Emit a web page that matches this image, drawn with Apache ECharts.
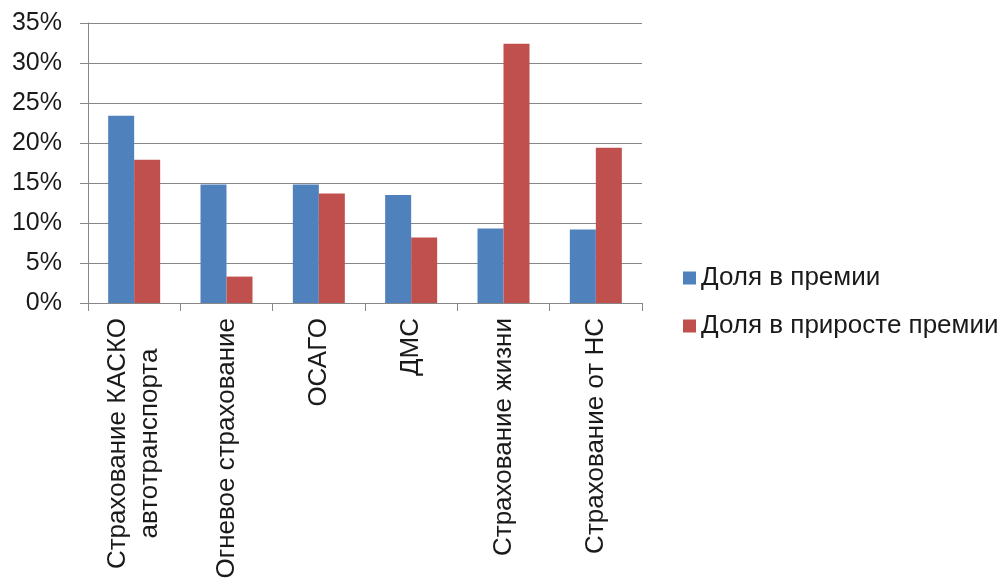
<!DOCTYPE html>
<html><head><meta charset="utf-8">
<script src="https://cdn.jsdelivr.net/npm/echarts@6/dist/echarts.min.js"></script>
<style>html,body{margin:0;padding:0;background:#fff}#c{width:1007px;height:586px}</style>
</head><body><div id="c"></div>
<script>
const categories = ['Страхование КАСКО\nавтотранспорта','Огневое страхование','ОСАГО','ДМС','Страхование жизни','Страхование от НС'];
const sharePremium = [23.4, 14.8, 14.8, 13.5, 9.3, 9.2];
const shareGrowth = [17.9, 3.3, 13.7, 8.2, 32.4, 19.4];
const seriesNames = ['Доля в премии','Доля в приросте премии'];
const yTicks = {min:0, max:35, interval:5};

const FONT = 'Arial';
const grayLine = '#878787';
const chart = echarts.init(document.getElementById('c'), null, {renderer:'canvas'});
chart.setOption({
  animation:false,
  backgroundColor:'#ffffff',
  grid:{left:88, right:365, top:23, bottom:283, containLabel:false},
  legend:{
    orient:'vertical', left:678, top:260, itemWidth:13, itemHeight:13, itemGap:22,
    icon:'rect',
    textStyle:{fontFamily:FONT, fontSize:26, color:'#1a1a1a', lineHeight:26},
    data:seriesNames
  },
  xAxis:{
    type:'category', data:categories,
    axisLine:{show:true, lineStyle:{color:grayLine, width:1}},
    axisTick:{show:true, length:8, lineStyle:{color:grayLine}},
    axisLabel:{
      interval:0, rotate:90, margin:15, fontFamily:FONT, fontSize:26, color:'#1a1a1a',
      formatter:function(v){return v.split('\n').map(s=>'{c|'+s+'}').join('\n');},
      rich:{c:{align:'center', fontFamily:FONT, fontSize:26, color:'#1a1a1a', lineHeight:32}}
    },
    splitLine:{show:false}
  },
  yAxis:{
    type:'value', min:yTicks.min, max:yTicks.max, interval:yTicks.interval,
    axisLine:{show:true, lineStyle:{color:grayLine, width:1}},
    axisTick:{show:true, length:8, lineStyle:{color:grayLine}},
    axisLabel:{margin:26, formatter:'{value}%', fontFamily:FONT, fontSize:25, color:'#1a1a1a'},
    splitLine:{show:true, lineStyle:{color:grayLine, width:1}}
  },
  series:[
    {name:seriesNames[0], type:'bar', data:sharePremium, barWidth:26, barGap:'0%', itemStyle:{color:'#4F81BD'}},
    {name:seriesNames[1], type:'bar', data:shareGrowth, barWidth:26, barGap:'0%', itemStyle:{color:'#C0504D'}}
  ]
});
</script></body></html>
